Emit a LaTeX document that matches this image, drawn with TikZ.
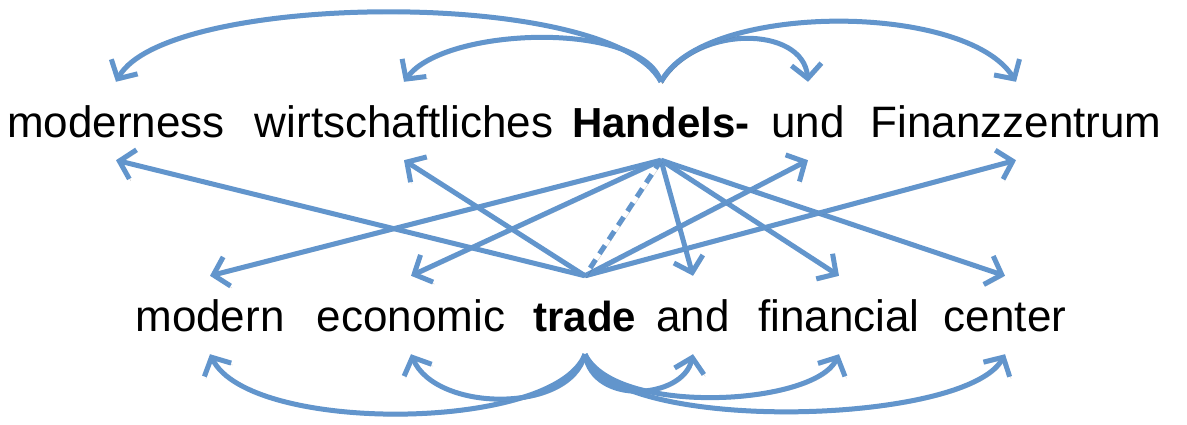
\documentclass[tikz,border=0pt]{standalone}
\usepackage{fontspec}
\setmainfont{Liberation Sans}
\usepackage{tikz}
\usetikzlibrary{arrows.meta}
\definecolor{linkblue}{RGB}{98,149,204}

\begin{document}
\begin{tikzpicture}
            [x=1pt,y=1pt,every node/.style={anchor=base, inner sep=0pt, text height=56pt, text depth=22pt, font=\fontsize{44}{52}\selectfont},
             key/.style={font=\fontsize{42}{50}\selectfont\bfseries},
             link/.style={draw=linkblue, line width=5pt, -{Straight Barb[length=14pt,width=30pt]},
                          preaction={draw=black, opacity=.18, transform canvas={xshift=1.5pt,yshift=-2pt}}}]
          \useasboundingbox (0,0) rectangle (1187,425);

          \node (de1) at (116,287) {moderness};
          \node (de2) at (404,287) {wirtschaftliches};
          \node[key] (de3) at (661,287) {Handels-};
          \node (de4) at (808,287) {und};
          \node (de5) at (1016,287) {Finanzzentrum};

          \node (en1) at (210,93) {modern};
          \node (en2) at (411,93) {economic};
          \node[key] (en3) at (585,93) {trade};
          \node (en4) at (693,93) {and};
          \node (en5) at (839,93) {financial};
          \node (en6) at (1005,93) {center};

          \foreach \from/\to/\ax/\ay/\bx/\by in {de3.north/de1.north/-50/95/50/90, de3.north/de2.north/-20/62/40/55,
                                                 de3.north/de4.north/35/58/-5/56, de3.north/de5.north/42/80/-50/80}
            \draw[link] (\from) .. controls +(\ax,\ay) and +(\bx,\by) .. (\to);

          \foreach \from/\to/\ax/\ay/\bx/\by in {en3.south/en1.south/-30/-78/40/-80, en3.south/en2.south/-15/-60/25/-58,
                                                 en3.south/en4.south/8/-52/-10/-45, en3.south/en5.south/30/-62/-25/-52,
                                                 en3.south/en6.south/25/-80/-40/-72}
            \draw[link] (\from) .. controls +(\ax,\ay) and +(\bx,\by) .. (\to);

          \foreach \from/\to in {de3.south/en1.north, de3.south/en2.north, de3.south/en4.north, de3.south/en5.north, de3.south/en6.north,
                                 en3.north/de1.south, en3.north/de2.south, en3.north/de4.south, en3.north/de5.south}
            \draw[link] (\from) -- (\to);

          \draw[link, -, dash pattern=on 10pt off 7pt] (de3.south) -- (en3.north);
        \end{tikzpicture}
\end{document}
